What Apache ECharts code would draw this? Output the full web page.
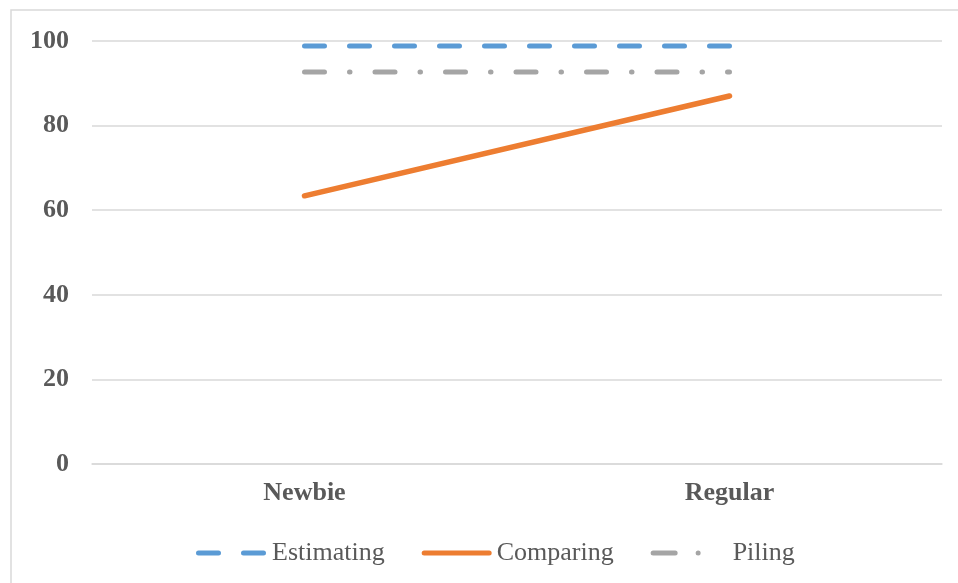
<!DOCTYPE html>
<html>
<head>
<meta charset="utf-8">
<script src="https://cdn.jsdelivr.net/npm/echarts@6/dist/echarts.min.js"></script>
<style>html,body{margin:0;padding:0;background:#fff}#c{width:958px;height:583px}</style>
</head>
<body>
<div id="c"></div>
<script>
var categories = ['Newbie', 'Regular'];
var estimating = [98.8, 98.8];
var comparing = [63.4, 87.0];
var piling = [92.7, 92.7];
var yTicks = { min: 0, max: 100, interval: 20 };

function cap(x0, x1) {
  return 'M' + (x0 + 2.5) + ',0 L' + (x1 - 2.5) + ',0 A2.5,2.5 0 0 1 ' + (x1 - 2.5) + ',5 L' + (x0 + 2.5) + ',5 A2.5,2.5 0 0 1 ' + (x0 + 2.5) + ',0 Z ';
}
var iconEst = 'path://' + cap(0, 25) + cap(45, 70);
var iconCmp = 'path://' + cap(0, 70);
var iconPil = 'path://' + cap(0, 27) + cap(45, 50) + 'M70,2.5 L70,2.5';

var chart = echarts.init(document.getElementById('c'), null, { renderer: 'canvas' });
var font = 'Liberation Serif, Times New Roman, serif';
chart.setOption({
  animation: false,
  backgroundColor: '#fff',
  graphic: [{
    type: 'rect', silent: true,
    shape: { x: 11, y: 10, width: 1000, height: 600 },
    style: { fill: 'none', stroke: '#d9d9d9', lineWidth: 1.5 }
  }],
  grid: { left: 92, right: 16, top: 41, bottom: 119, containLabel: false },
  xAxis: {
    type: 'category', data: categories, boundaryGap: true,
    axisLine: { lineStyle: { color: '#d9d9d9', width: 1.5 } },
    axisTick: { show: false },
    axisLabel: { color: '#595959', fontFamily: font, fontWeight: 'bold', fontSize: 26, margin: 16 }
  },
  yAxis: {
    type: 'value', min: yTicks.min, max: yTicks.max, interval: yTicks.interval,
    axisLine: { show: false }, axisTick: { show: false },
    splitLine: { lineStyle: { color: '#d9d9d9', width: 1.5 } },
    axisLabel: { color: '#595959', fontFamily: font, fontWeight: 'bold', fontSize: 26, margin: 23 }
  },
  legend: {
    left: 191, top: 535, itemWidth: 70, itemHeight: 5, itemGap: 37,
    textStyle: { color: '#595959', fontFamily: font, fontSize: 26 },
    data: [
      { name: 'Estimating', icon: iconEst, textStyle: { padding: [0, 0, 0, 1] } },
      { name: 'Comparing', icon: iconCmp, textStyle: { padding: [0, 0, 0, 0] } },
      { name: 'Piling', icon: iconPil, textStyle: { padding: [0, 0, 0, 7] } }
    ]
  },
  series: [
    { name: 'Estimating', type: 'line', data: estimating, symbol: 'none', color: '#5b9bd5',
      lineStyle: { color: '#5b9bd5', width: 5, type: [20, 25], cap: 'round' } },
    { name: 'Comparing', type: 'line', data: comparing, symbol: 'none', color: '#ed7d31',
      lineStyle: { color: '#ed7d31', width: 5.5, type: 'solid', cap: 'round' } },
    { name: 'Piling', type: 'line', data: piling, symbol: 'none', color: '#a5a5a5',
      lineStyle: { color: '#a5a5a5', width: 5, type: [20, 25, 0.5, 25], cap: 'round' } }
  ]
});
</script>
</body>
</html>
